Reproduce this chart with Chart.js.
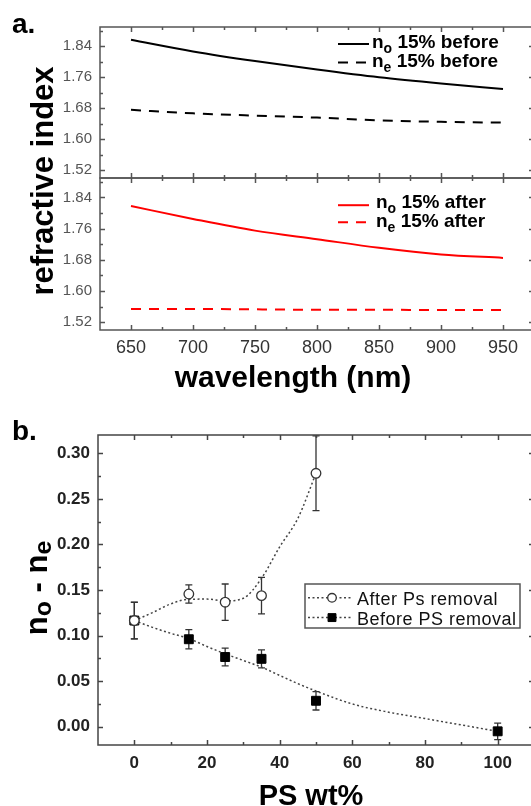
<!DOCTYPE html>
<html>
<head>
<meta charset="utf-8">
<script src="https://cdn.jsdelivr.net/npm/chart.js@4.4.1/dist/chart.umd.min.js"></script>
<style>
  html, body { margin: 0; padding: 0; background: #fff; overflow: hidden; }
  #page { position: relative; width: 531px; height: 806px; overflow: hidden; font-family: "Liberation Sans", Arial, sans-serif; }
  canvas { position: absolute; left: 0; }
  .lbl { position: absolute; font-weight: bold; color: #000; white-space: nowrap; }
  .ctr { transform: translateX(-50%); }
  .rot { transform: translate(-50%, -50%) rotate(-90deg); }
  .sub { font-size: 0.8em; position: relative; top: 4px; }
</style>
</head>
<body>
<div id="page">
  <canvas id="cBefore" width="534" height="200" style="top:0"></canvas>
  <canvas id="cAfter" width="534" height="250" style="top:150px"></canvas>
  <canvas id="cDiff" width="534" height="406" style="top:400px"></canvas>

  <div class="lbl" style="left:12px;top:10px;font-size:28px;line-height:28px">a.</div>
  <div class="lbl rot" style="left:42px;top:181px;font-size:31px;line-height:31px">refractive index</div>
  <div class="lbl ctr" style="left:293px;top:362px;font-size:30px;line-height:30px">wavelength (nm)</div>

  <div class="lbl" style="left:12px;top:417px;font-size:28px;line-height:28px">b.</div>
  <div class="lbl rot" style="left:37px;top:588px;font-size:31px;line-height:31px">n<span class="sub">o</span> - n<span class="sub">e</span></div>
  <div class="lbl ctr" style="left:311px;top:781px;font-size:29px;line-height:29px">PS wt%</div>
</div>

<script>
// panel a: refractive index vs wavelength, 15% PS film
const wavelength = [650, 700, 750, 800, 850, 900, 950];
const noBefore = [1.857, 1.827, 1.802, 1.780, 1.760, 1.744, 1.730];
const neBefore = [1.676, 1.667, 1.661, 1.656, 1.649, 1.645, 1.643];
const noAfter  = [1.818, 1.785, 1.755, 1.733, 1.711, 1.694, 1.685];
const neAfter  = [1.554, 1.554, 1.553, 1.552, 1.552, 1.551, 1.551];
const refTicks = [1.52, 1.60, 1.68, 1.76, 1.84];
const refMinor = [1.56, 1.64, 1.72, 1.80, 1.88];
const wlTicks = [650, 700, 750, 800, 850, 900, 950];
const wlMinor = [675, 725, 775, 825, 875, 925];

// panel b: birefringence vs PS content
const psBefore = [0, 15, 25, 35, 50, 100];
const dnBefore = [0.1165, 0.096, 0.0765, 0.0745, 0.0285, -0.005];
const dnBeforeErr = [0.02, 0.0105, 0.0097, 0.0099, 0.0101, 0.009];
const psAfter = [0, 15, 25, 35, 50];
const dnAfter = [0.1165, 0.1456, 0.1366, 0.1438, 0.278];
const dnAfterErr = [0.0201, 0.01, 0.02, 0.02, 0.041];
// dotted guide curves
const fitAfterX = [0, 5, 10, 15, 20, 25, 30, 35, 40, 45, 50];
const fitAfterY = [0.1165, 0.1252, 0.1347, 0.1399, 0.1400, 0.1380, 0.1409, 0.1628, 0.1973, 0.2285, 0.278];
const fitBeforeX = [0, 5, 10, 15, 20, 25, 30, 35, 40, 45, 50, 60, 70, 80, 90, 100];
const fitBeforeY = [0.1165, 0.109, 0.1025, 0.0967, 0.088, 0.080, 0.0727, 0.0654, 0.0563, 0.0473, 0.0392, 0.025, 0.016, 0.009, 0.002, -0.005];
const dnTicks = [0.00, 0.05, 0.10, 0.15, 0.20, 0.25, 0.30];
const dnMinor = [0.025, 0.075, 0.125, 0.175, 0.225, 0.275];
const psTicks = [0, 20, 40, 60, 80, 100];
const psMinor = [10, 30, 50, 70, 90];

const FONT = '"Liberation Sans", Arial, sans-serif';
const pts = (xs, ys) => xs.map((x, i) => ({ x: x, y: ys[i] }));

// box around the plot area with inward ticks on all four sides
const frameTicks = {
  id: 'frameTicks',
  afterDatasetsDraw(chart, args, o) {
    const { ctx, chartArea: a, scales: { x, y } } = chart;
    ctx.save();
    ctx.strokeStyle = o.color;
    ctx.lineWidth = o.width;
    ctx.beginPath();
    const seg = (x0, y0, x1, y1) => { ctx.moveTo(x0, y0); ctx.lineTo(x1, y1); };
    const xMarks = (vals, len) => vals.forEach(v => {
      const p = Math.round(x.getPixelForValue(v)) + 0.5;
      seg(p, a.bottom, p, a.bottom - len);
      seg(p, a.top, p, a.top + len);
    });
    const yMarks = (vals, len) => vals.forEach(v => {
      const p = Math.round(y.getPixelForValue(v)) + 0.5;
      seg(a.left, p, a.left + len, p);
      seg(a.right, p, a.right - len, p);
    });
    xMarks(o.xMajor, 5); xMarks(o.xMinor, 3);
    yMarks(o.yMajor, 5); yMarks(o.yMinor, 3);
    ctx.stroke();
    ctx.strokeRect(a.left, a.top, a.width, a.height);
    ctx.restore();
  }
};

// legend lines with subscripted labels (n_o / n_e)
const subLegend = {
  id: 'subLegend',
  afterDraw(chart, args, o) {
    const ctx = chart.ctx;
    const big = 'bold 19px ' + FONT, small = 'bold 14px ' + FONT;
    ctx.save();
    o.items.forEach(it => {
      const ds = chart.data.datasets[it.dataset];
      ctx.strokeStyle = ds.borderColor;
      ctx.lineWidth = ds.borderWidth;
      ctx.setLineDash(ds.borderDash || []);
      ctx.beginPath();
      ctx.moveTo(o.lineX0, it.lineY);
      ctx.lineTo(o.lineX1, it.lineY);
      ctx.stroke();
      ctx.setLineDash([]);
      ctx.fillStyle = '#000';
      ctx.textAlign = 'left';
      ctx.textBaseline = 'alphabetic';
      let tx = o.textX;
      ctx.font = big; ctx.fillText(it.main, tx, it.baseY); tx += ctx.measureText(it.main).width;
      ctx.font = small; ctx.fillText(it.sub, tx, it.baseY + 5); tx += ctx.measureText(it.sub).width;
      ctx.font = big; ctx.fillText(it.rest, tx, it.baseY);
    });
    ctx.restore();
  }
};

// vertical error bars with caps, under the markers
const errorBars = {
  id: 'errorBars',
  beforeDatasetsDraw(chart) {
    const { ctx, chartArea: a, scales: { x, y } } = chart;
    ctx.save();
    ctx.beginPath();
    ctx.rect(a.left, a.top, a.width, a.height);
    ctx.clip();
    ctx.strokeStyle = '#333';
    ctx.lineWidth = 1.3;
    chart.data.datasets.forEach(ds => {
      if (!ds.errors) return;
      ds.data.forEach((p, i) => {
        const px = x.getPixelForValue(p.x);
        const hi = y.getPixelForValue(p.y + ds.errors[i]);
        const lo = y.getPixelForValue(p.y - ds.errors[i]);
        ctx.beginPath();
        ctx.moveTo(px, hi); ctx.lineTo(px, lo);
        ctx.moveTo(px - 3.5, hi); ctx.lineTo(px + 3.5, hi);
        ctx.moveTo(px - 3.5, lo); ctx.lineTo(px + 3.5, lo);
        ctx.stroke();
      });
    });
    ctx.restore();
  }
};

// boxed legend for panel b
const boxLegend = {
  id: 'boxLegend',
  afterDraw(chart, args, o) {
    const ctx = chart.ctx;
    ctx.save();
    ctx.fillStyle = '#fff';
    ctx.fillRect(o.x, o.y, o.w, o.h);
    ctx.strokeStyle = '#555';
    ctx.lineWidth = 1.5;
    ctx.strokeRect(o.x, o.y, o.w, o.h);
    o.items.forEach(it => {
      const line = chart.data.datasets[it.line];
      const mk = chart.data.datasets[it.marker];
      ctx.strokeStyle = line.borderColor;
      ctx.lineWidth = line.borderWidth;
      ctx.setLineDash(line.borderDash);
      ctx.beginPath();
      ctx.moveTo(o.x + 3, it.rowY);
      ctx.lineTo(o.x + 48, it.rowY);
      ctx.stroke();
      ctx.setLineDash([]);
      ctx.fillStyle = mk.pointBackgroundColor;
      ctx.strokeStyle = mk.pointBorderColor;
      ctx.lineWidth = mk.pointBorderWidth;
      Chart.helpers.drawPoint(ctx, { pointStyle: mk.pointStyle, radius: it.radius, rotation: 0, borderWidth: mk.pointBorderWidth }, o.x + 27, it.rowY);
      ctx.fillStyle = '#111';
      ctx.font = '18px ' + FONT;
      ctx.letterSpacing = '0.5px';
      ctx.textAlign = 'left';
      ctx.textBaseline = 'alphabetic';
      ctx.fillText(mk.label, o.x + 52, it.baseY);
    });
    ctx.restore();
  }
};

function wlPanel(id, datasets, showX, padTop, padBottom, legendItems, legendTextX) {
  return new Chart(document.getElementById(id), {
    type: 'scatter',
    data: { datasets: datasets },
    plugins: [frameTicks, subLegend],
    options: {
      responsive: false,
      devicePixelRatio: 1,
      animation: false,
      layout: { autoPadding: false, padding: { top: padTop, bottom: padBottom, left: 0, right: 0 } },
      scales: {
        x: {
          type: 'linear', min: 625, max: 975, display: showX,
          afterBuildTicks: s => { s.ticks = wlTicks.map(v => ({ value: v })); },
          afterFit: s => { s.height = showX ? 70 : 0; },
          grid: { display: false, drawTicks: false }, border: { display: false },
          ticks: { padding: 7, color: '#333', font: { family: FONT, size: 18 } }
        },
        y: {
          type: 'linear', min: 1.50, max: 1.89,
          afterBuildTicks: s => { s.ticks = refTicks.map(v => ({ value: v })); },
          afterFit: s => { s.width = 100; },
          grid: { display: false, drawTicks: false }, border: { display: false },
          ticks: { padding: 8, color: '#555', font: { family: FONT, size: 15 }, callback: v => v.toFixed(2) }
        }
      },
      plugins: {
        legend: { display: false },
        tooltip: { enabled: false },
        frameTicks: { color: '#555', width: 1.5, xMajor: wlTicks, xMinor: wlMinor, yMajor: refTicks, yMinor: refMinor },
        subLegend: { lineX0: 338, lineX1: 369, textX: legendTextX, items: legendItems }
      }
    }
  });
}

const lineSet = (data, color, dash) => ({
  data: data, showLine: true, borderColor: color, borderWidth: 2, borderDash: dash,
  pointRadius: 0, tension: 0.4, cubicInterpolationMode: 'monotone'
});

wlPanel('cBefore', [
  lineSet(pts(wavelength, noBefore), '#000', []),
  lineSet(pts(wavelength, neBefore), '#000', [10, 8])
], false, 27, 22, [
  { dataset: 0, lineY: 44, baseY: 47.5, main: 'n', sub: 'o', rest: ' 15% before' },
  { dataset: 1, lineY: 62.6, baseY: 67, main: 'n', sub: 'e', rest: ' 15% before' }
], 372);

wlPanel('cAfter', [
  lineSet(pts(wavelength, noAfter), '#ff0000', []),
  lineSet(pts(wavelength, neAfter), '#ff0000', [10, 8])
], true, 28, 0, [
  { dataset: 0, lineY: 55.2, baseY: 57.6, main: 'n', sub: 'o', rest: ' 15% after' },
  { dataset: 1, lineY: 72.2, baseY: 77.2, main: 'n', sub: 'e', rest: ' 15% after' }
], 376);

new Chart(document.getElementById('cDiff'), {
  type: 'scatter',
  data: {
    datasets: [
      { data: pts(fitAfterX, fitAfterY), showLine: true, borderColor: '#444', borderWidth: 1.5, borderDash: [2, 2.5],
        pointRadius: 0, tension: 0.4, cubicInterpolationMode: 'monotone', order: 3 },
      { data: pts(fitBeforeX, fitBeforeY), showLine: true, borderColor: '#444', borderWidth: 1.5, borderDash: [2, 2.5],
        pointRadius: 0, tension: 0.4, cubicInterpolationMode: 'monotone', order: 3 },
      { label: 'Before PS removal', data: pts(psBefore, dnBefore), errors: dnBeforeErr,
        pointStyle: 'rect', pointRadius: 6.3, pointBackgroundColor: '#000', pointBorderColor: '#000', pointBorderWidth: 1, order: 2 },
      { label: 'After Ps removal', data: pts(psAfter, dnAfter), errors: dnAfterErr,
        pointStyle: 'circle', pointRadius: 4.8, pointBackgroundColor: '#fff', pointBorderColor: '#333', pointBorderWidth: 1.3, order: 1 }
    ]
  },
  plugins: [errorBars, frameTicks, boxLegend],
  options: {
    responsive: false,
    devicePixelRatio: 1,
    animation: false,
    layout: { autoPadding: false, padding: { top: 35, bottom: 0, left: 0, right: 0 } },
    scales: {
      x: {
        type: 'linear', min: -10, max: 110,
        afterBuildTicks: s => { s.ticks = psTicks.map(v => ({ value: v })); },
        afterFit: s => { s.height = 61; },
        grid: { display: false, drawTicks: false }, border: { display: false },
        ticks: { padding: 8, color: '#222', font: { family: FONT, size: 17, weight: 'bold' } }
      },
      y: {
        type: 'linear', min: -0.02, max: 0.32,
        afterBuildTicks: s => { s.ticks = dnTicks.map(v => ({ value: v })); },
        afterFit: s => { s.width = 98; },
        grid: { display: false, drawTicks: false }, border: { display: false },
        ticks: { padding: 8, color: '#222', font: { family: FONT, size: 17, weight: 'bold' }, callback: v => v.toFixed(2) }
      }
    },
    plugins: {
      legend: { display: false },
      tooltip: { enabled: false },
      frameTicks: { color: '#444', width: 1.5, xMajor: psTicks, xMinor: psMinor, yMajor: dnTicks, yMinor: dnMinor },
      boxLegend: {
        x: 305, y: 184, w: 215, h: 44,
        items: [
          { line: 0, marker: 3, radius: 4.3, rowY: 197.8, baseY: 204.6 },
          { line: 1, marker: 2, radius: 5.6, rowY: 217.6, baseY: 225 }
        ]
      }
    }
  }
});
</script>
</body>
</html>
